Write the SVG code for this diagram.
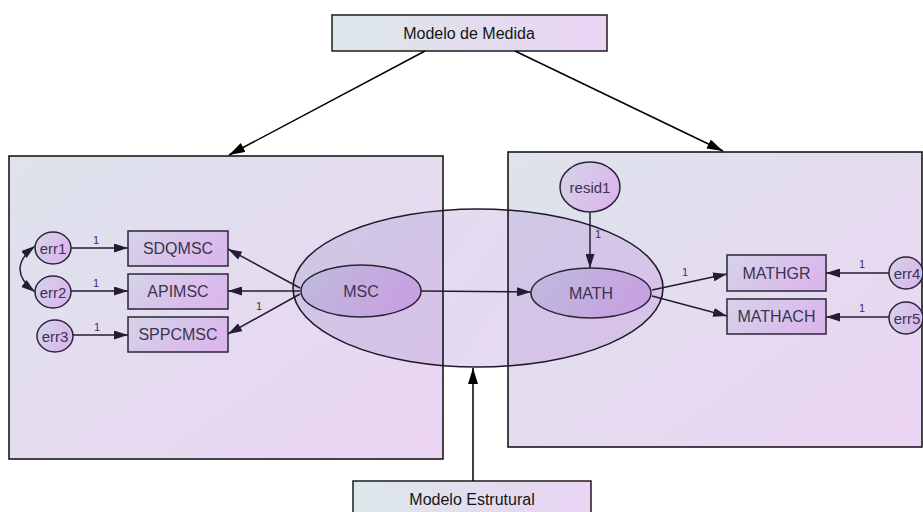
<svg xmlns="http://www.w3.org/2000/svg" width="923" height="512" viewBox="0 0 923 512">
  <defs>
    <linearGradient id="panelFill" x1="0" y1="0" x2="1" y2="1">
      <stop offset="0" stop-color="#dde3ec"/>
      <stop offset="1" stop-color="#ecd4f3"/>
    </linearGradient>
    <linearGradient id="labelFill" x1="0" y1="0" x2="1" y2="0">
      <stop offset="0" stop-color="#dbe8ea"/>
      <stop offset="1" stop-color="#ead3f4"/>
    </linearGradient>
    <linearGradient id="nodeFill" x1="0" y1="0" x2="1" y2="0.4">
      <stop offset="0" stop-color="#d5d4e8"/>
      <stop offset="1" stop-color="#dab8ec"/>
    </linearGradient>
    <linearGradient id="latentFill" x1="0" y1="0" x2="1" y2="0.3">
      <stop offset="0" stop-color="#bdbcdc"/>
      <stop offset="1" stop-color="#c7a1e1"/>
    </linearGradient>
    <linearGradient id="structFill" x1="0" y1="0" x2="1" y2="0.3">
      <stop offset="0" stop-color="#a9a7d2"/>
      <stop offset="1" stop-color="#c39bde"/>
    </linearGradient>
    <marker id="head" viewBox="0 0 14 9" refX="14" refY="4.5" markerWidth="14" markerHeight="9" markerUnits="userSpaceOnUse" orient="auto-start-reverse">
      <path d="M0,0 L14,4.5 L0,9 Z" fill="#241c33"/>
    </marker>
    <marker id="headBig" viewBox="0 0 16 10" refX="16" refY="5" markerWidth="16" markerHeight="10" markerUnits="userSpaceOnUse" orient="auto">
      <path d="M0,0 L16,5 L0,10 Z" fill="#000"/>
    </marker>
  </defs>
  <style>
    .panel { fill: url(#panelFill); stroke: none; }
    .panelEdge { fill: none; stroke: #1a1a1a; stroke-width: 1.6; }
    .label { fill: url(#labelFill); stroke: #2a2a2a; stroke-width: 1.6; }
    .obs { fill: url(#nodeFill); stroke: #2a2438; stroke-width: 1.5; }
    .err { fill: url(#nodeFill); stroke: #2a2438; stroke-width: 1.5; }
    .lat { fill: url(#latentFill); stroke: #2a2438; stroke-width: 1.5; }
    .struct { fill: url(#structFill); fill-opacity: 0.38; stroke: #1f1a2b; stroke-width: 1.6; }
    .t { font-family: "Liberation Sans", Arial, sans-serif; font-size: 16px; fill: #3b3350; text-anchor: middle; dominant-baseline: central; }
    .te { font-family: "Liberation Sans", Arial, sans-serif; font-size: 15px; fill: #3b3350; text-anchor: middle; dominant-baseline: central; }
    .tl { font-family: "Liberation Sans", Arial, sans-serif; font-size: 16px; fill: #161616; text-anchor: middle; dominant-baseline: central; }
    .one { font-family: "Liberation Sans", Arial, sans-serif; font-size: 11px; fill: #3b3350; text-anchor: middle; dominant-baseline: central; }
    .c { stroke: #241c33; stroke-width: 1.5; fill: none; marker-end: url(#head); }
    .cb { stroke: #000; stroke-width: 1.5; fill: none; marker-end: url(#headBig); }
  </style>

  <!-- measurement panels -->
  <g id="panel-left">
    <rect class="panel" x="9" y="156" width="434" height="303"/>
  </g>
  <g id="panel-right">
    <rect class="panel" x="508" y="152" width="414" height="295"/>
  </g>

  <!-- structural model ellipse spanning both panels -->
  <g id="structural">
    <ellipse class="struct" cx="478" cy="288" rx="185" ry="79"/>
  </g>

  <!-- panel outlines over the structural ellipse -->
  <g id="panel-edges">
    <rect class="panelEdge" x="9" y="156" width="434" height="303"/>
    <rect class="panelEdge" x="508" y="152" width="414" height="295"/>
  </g>

  <g id="label-medida">
    <rect class="label" x="332" y="15" width="275" height="36"/>
    <text class="tl" x="469" y="33">Modelo de Medida</text>
  </g>
  <g id="label-estrutural">
    <rect class="label" x="353" y="481" width="238" height="40"/>
    <text class="tl" x="472" y="499">Modelo Estrutural</text>
  </g>

  <g id="connectors">
    <!-- callouts -->
    <line class="cb" x1="425" y1="51" x2="229" y2="155"/>
    <line class="cb" x1="515" y1="51" x2="723" y2="151"/>
    <line class="cb" x1="473" y1="481" x2="473" y2="368"/>
    <!-- error terms -->
    <line class="c" x1="71" y1="248" x2="128" y2="248"/>
    <line class="c" x1="71" y1="291" x2="128" y2="291"/>
    <line class="c" x1="73" y1="335" x2="128" y2="335"/>
    <path class="c" d="M35,246 Q5,269 35,292" marker-start="url(#head)"/>
    <!-- loadings of MSC -->
    <line class="c" x1="300" y1="288" x2="228" y2="249"/>
    <line class="c" x1="300" y1="291" x2="228" y2="291"/>
    <line class="c" x1="300" y1="294" x2="228" y2="334"/>
    <!-- structural path -->
    <line class="c" x1="421" y1="291" x2="531" y2="292"/>
    <line class="c" x1="590" y1="212" x2="590" y2="268"/>
    <!-- loadings of MATH -->
    <line class="c" x1="652" y1="290" x2="727" y2="274"/>
    <line class="c" x1="652" y1="296" x2="727" y2="316"/>
    <line class="c" x1="889" y1="273" x2="826" y2="273"/>
    <line class="c" x1="889" y1="317" x2="826" y2="317"/>
  </g>

  <g id="weights">
    <text class="one" x="96" y="240">1</text>
    <text class="one" x="96" y="283">1</text>
    <text class="one" x="97" y="327">1</text>
    <text class="one" x="259" y="306">1</text>
    <text class="one" x="598" y="234">1</text>
    <text class="one" x="685" y="272">1</text>
    <text class="one" x="862" y="264">1</text>
    <text class="one" x="862" y="308">1</text>
  </g>

  <g id="err1"><ellipse class="err" cx="53" cy="248" rx="18" ry="16"/><text class="te" x="53" y="248">err1</text></g>
  <g id="err2"><ellipse class="err" cx="53" cy="292" rx="18" ry="16"/><text class="te" x="53" y="292">err2</text></g>
  <g id="err3"><ellipse class="err" cx="55" cy="336" rx="18" ry="16"/><text class="te" x="55" y="336">err3</text></g>

  <g id="SDQMSC"><rect class="obs" x="128" y="231" width="100" height="35"/><text class="t" x="178" y="248.5">SDQMSC</text></g>
  <g id="APIMSC"><rect class="obs" x="128" y="274" width="100" height="35"/><text class="t" x="178" y="291.5">APIMSC</text></g>
  <g id="SPPCMSC"><rect class="obs" x="128" y="317" width="100" height="35"/><text class="t" x="178" y="334.5">SPPCMSC</text></g>

  <g id="MSC"><ellipse class="lat" cx="361" cy="291" rx="60" ry="26"/><text class="t" x="361" y="291">MSC</text></g>
  <g id="MATH"><ellipse class="lat" cx="591" cy="293" rx="60" ry="25"/><text class="t" x="591" y="293">MATH</text></g>
  <g id="resid1"><ellipse class="err" cx="590" cy="187" rx="30" ry="25"/><text class="te" x="590" y="187">resid1</text></g>

  <g id="MATHGR"><rect class="obs" x="727" y="255" width="99" height="36"/><text class="t" x="776.5" y="273">MATHGR</text></g>
  <g id="MATHACH"><rect class="obs" x="727" y="299" width="99" height="35"/><text class="t" x="776.5" y="316.5">MATHACH</text></g>

  <g id="err4"><ellipse class="err" cx="906" cy="273" rx="17" ry="16"/><text class="te" x="907" y="273">err4</text></g>
  <g id="err5"><ellipse class="err" cx="906" cy="318" rx="17" ry="16"/><text class="te" x="907" y="318">err5</text></g>
</svg>
